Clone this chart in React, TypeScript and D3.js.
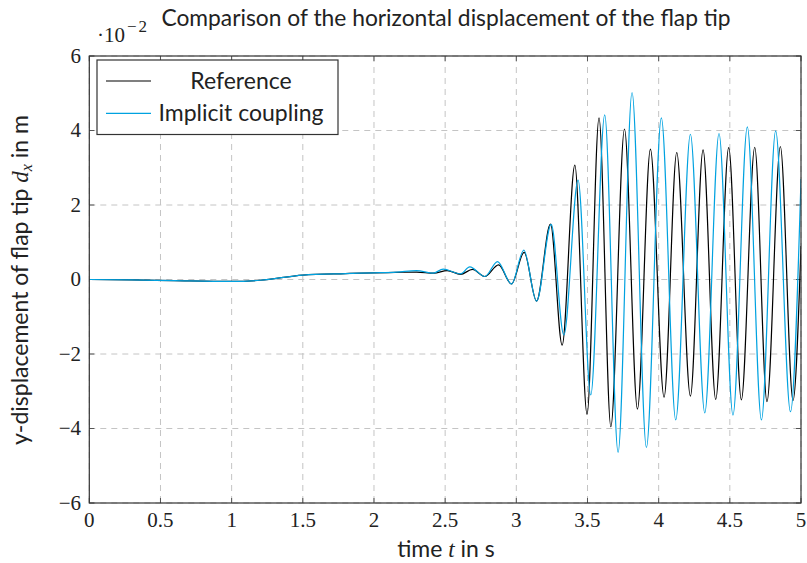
import React from "react";
import * as d3 from "d3";

const refT = [0, 0.3, 0.6, 1.0, 1.2, 1.5, 1.8, 2.0, 2.15, 2.3, 2.42, 2.514, 2.608, 2.692, 2.779, 2.875, 2.966, 3.055, 3.142, 3.24, 3.322, 3.411, 3.497, 3.581, 3.664, 3.76, 3.851, 3.942, 4.038, 4.127, 4.223, 4.312, 4.401, 4.492, 4.581, 4.675, 4.761, 4.855, 4.944, 5.0];
const refV = [0, -0.01, -0.03, -0.05, -0.02, 0.12, 0.16, 0.18, 0.19, 0.2, 0.17, 0.24, 0.14, 0.27, 0.08, 0.39, -0.12, 0.73, -0.58, 1.49, -1.76, 3.07, -3.62, 4.34, -3.95, 4.04, -3.48, 3.5, -3.16, 3.41, -3.13, 3.48, -3.22, 3.54, -3.23, 3.55, -3.28, 3.57, -3.25, 0.9];

const impT = [0, 0.3, 0.6, 1.0, 1.2, 1.5, 1.8, 2.0, 2.16, 2.299, 2.416, 2.486, 2.608, 2.673, 2.779, 2.868, 2.966, 3.053, 3.142, 3.245, 3.334, 3.434, 3.523, 3.621, 3.715, 3.813, 3.914, 4.019, 4.12, 4.223, 4.324, 4.424, 4.522, 4.623, 4.722, 4.822, 4.926, 5.0];
const impV = [0, -0.01, -0.03, -0.05, -0.02, 0.12, 0.16, 0.18, 0.2, 0.24, 0.17, 0.28, 0.15, 0.34, 0.08, 0.48, -0.12, 0.79, -0.58, 1.48, -1.49, 2.67, -3.1, 4.42, -4.64, 5.02, -4.51, 4.34, -3.77, 3.9, -3.58, 3.92, -3.64, 4.1, -3.77, 3.99, -3.55, 2.7];

const xTicks = [0, 0.5, 1, 1.5, 2, 2.5, 3, 3.5, 4, 4.5, 5];
const yTicks = [-6, -4, -2, 0, 2, 4, 6];

const seriesNames = ["Reference", "Implicit coupling"];
const seriesColors = ["#000000", "#00a2e0"];

const W = 807, H = 563;
const L = 89.3, R = 801, T = 56, B = 503;
const SANS = "Lato, 'Open Sans', sans-serif";
const SERIF = "'Liberation Serif', 'DejaVu Serif', serif";

export default function App() {
  const x = d3.scaleLinear().domain([0, 5]).range([L, R]);
  const y = d3.scaleLinear().domain([-6, 6]).range([B, T]);
  const line = d3
    .line<[number, number]>()
    .x((d) => x(d[0]))
    .y((d) => y(d[1]))
    .curve(d3.curveMonotoneX);
  const refData = refT.map((t, i) => [t, refV[i]] as [number, number]);
  const impData = impT.map((t, i) => [t, impV[i]] as [number, number]);
  const fmt = (v: number) => (v < 0 ? "\u2212" + Math.abs(v) : String(v));

  return (
    <svg width={W} height={H} style={{ position: "absolute", left: 0, top: 0, background: "#fff" }}>
      <defs>
        <clipPath id="plot">
          <rect x={L} y={T} width={R - L} height={B - T} />
        </clipPath>
      </defs>
      {xTicks.map((t) => (
        <line key={"gx" + t} x1={x(t)} x2={x(t)} y1={T} y2={B} stroke="#c4c4c4" strokeWidth={1} strokeDasharray="6,5" />
      ))}
      {yTicks.map((t) => (
        <line key={"gy" + t} x1={L} x2={R} y1={y(t)} y2={y(t)} stroke="#c4c4c4" strokeWidth={1} strokeDasharray="6,5" />
      ))}
      {xTicks.map((t) => (
        <g key={"tx" + t}>
          <line x1={x(t)} x2={x(t)} y1={B} y2={B - 5} stroke="#555" />
          <line x1={x(t)} x2={x(t)} y1={T} y2={T + 5} stroke="#555" />
          <text x={x(t)} y={527} textAnchor="middle" fontFamily={SERIF} fontSize={21} fill="#222">
            {fmt(t)}
          </text>
        </g>
      ))}
      {yTicks.map((t) => (
        <g key={"ty" + t}>
          <line x1={L} x2={L + 5} y1={y(t)} y2={y(t)} stroke="#555" />
          <line x1={R} x2={R - 5} y1={y(t)} y2={y(t)} stroke="#555" />
          <text x={81} y={y(t) + 6.5} textAnchor="end" fontFamily={SERIF} fontSize={21} fill="#222">
            {fmt(t)}
          </text>
        </g>
      ))}
      <g clipPath="url(#plot)">
        <path d={line(refData) || ""} fill="none" stroke={seriesColors[0]} strokeWidth={1.2} />
        <path d={line(impData) || ""} fill="none" stroke={seriesColors[1]} strokeWidth={1.2} />
      </g>
      <rect x={L} y={T} width={R - L} height={B - T} fill="none" stroke="#333" strokeWidth={1.2} />
      <rect x={97} y={60} width={241} height={74.5} fill="#fff" stroke="#333" strokeWidth={1.2} />
      {seriesNames.map((n, i) => (
        <g key={n}>
          <line x1={106} x2={151} y1={81 + i * 32.3} y2={81 + i * 32.3} stroke={seriesColors[i]} strokeWidth={1.2} />
          <text x={241} y={89 + i * 32.3} textAnchor="middle" fontFamily={SANS} fontSize={23} fill="#222">
            {n}
          </text>
        </g>
      ))}
      <text x={97} y={42} fontFamily={SERIF} fontSize={21} fill="#222">
        {"\u00b710"}
        <tspan fontSize={17} dx={2} dy={-10} letterSpacing={2}>{"\u22122"}</tspan>
      </text>
      <text x={446} y={26} textAnchor="middle" fontFamily={SANS} fontSize={22.8} fill="#222">
        Comparison of the horizontal displacement of the flap tip
      </text>
      <text x={446} y={557} textAnchor="middle" fontFamily={SANS} fontSize={23} fill="#222">
        time <tspan fontFamily={SERIF} fontStyle="italic">t</tspan> in s
      </text>
      <text transform={`translate(28,280) rotate(-90)`} textAnchor="middle" fontFamily={SANS} fontSize={23} fill="#222">
        y-displacement of flap tip{" "}
        <tspan fontFamily={SERIF} fontStyle="italic">d</tspan>
        <tspan fontFamily={SERIF} fontStyle="italic" fontSize={16} dy={4}>x</tspan>
        <tspan dy={-4}> in m</tspan>
      </text>
    </svg>
  );
}
